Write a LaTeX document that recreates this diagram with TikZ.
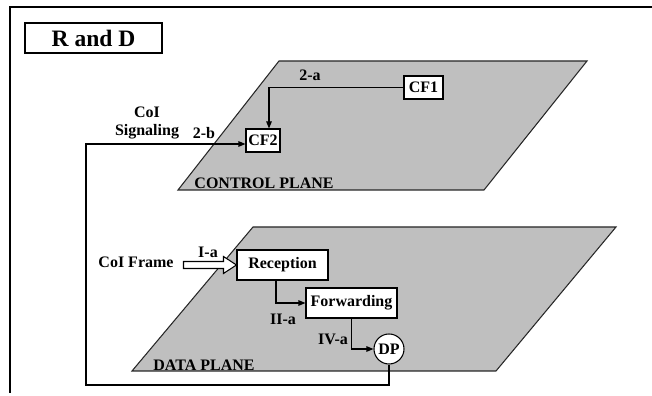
\documentclass[tikz,border=0pt]{standalone}
\usepackage{fontspec}
\setmainfont{Liberation Serif}
\usetikzlibrary{arrows.meta}

\begin{document}
\begin{tikzpicture}[>={Triangle[length=1.4mm,width=1.1mm]},font=\fontsize{9.1}{10.5}\selectfont\bfseries,line width=0.6pt,
  plane/.style={fill=black!25,draw=black!85},
  box/.style={draw,fill=white,inner sep=0pt,minimum height=0.46cm},
  unit/.style={box,minimum width=1.82cm,minimum height=0.6cm}]
\useasboundingbox (0,0) rectangle (13.04,7.92);
\draw (0.2,0.06) -- (0.2,7.78) -- (13.04,7.78);
\node[box,minimum width=2.74cm,minimum height=0.6cm,font=\fontsize{13.4}{15}\selectfont\bfseries] (title) at (1.87,7.16) {R and D};
% planes
\draw[plane] (3.56,4.12) -- (5.58,6.70) -- (11.74,6.70) -- (9.68,4.12) -- cycle;
\draw[plane] (2.64,0.50) -- (5.06,3.38) -- (12.32,3.38) -- (9.92,0.50) -- cycle;
\node (cplane) at (5.28,4.26) {CONTROL PLANE};
\node (dplane) at (4.08,0.62) {DATA PLANE};
% control functions
\node[box,minimum width=0.78cm] (cf1) at (8.47,6.17) {CF1};
\node[box,minimum width=0.68cm] (cf2) at (5.26,5.11) {CF2};
\draw[->] (cf1.west) -| ([xshift=1.2mm]cf2.north);
\node (la) at (6.2,6.42) {2-a};
% data path
\node[unit] (reception) at (5.65,2.62) {Reception};
\node[unit] (forwarding) at (7.03,1.86) {Forwarding};
\node[draw,fill=white,circle,inner sep=0pt,minimum size=0.6cm] (dp) at (7.78,0.94) {DP};
\draw[fill=white] (reception.west) -- ++(-0.26,0.17) -- ++(0,-0.1) -- ++(-0.8,0) -- ++(0,-0.14) -- ++(0.8,0) -- ++(0,-0.1) -- cycle;
\node (frame) at (2.72,2.68) {CoI Frame};
\node (ia) at (4.16,2.88) {I-a};
\draw[->] ([xshift=-1.3mm]reception.south) |- (forwarding.west);
\node (iia) at (5.66,1.54) {II-a};
\draw[->] (forwarding.south) |- (dp.west);
\node (iva) at (6.66,1.14) {IV-a};
% signaling back to control plane
\coordinate (sigbot) at (1.72,0.22);
\draw[->] (dp.south) |- (sigbot) |- ([yshift=-0.7mm]cf2.west);
\node[align=center] (sig) at (2.94,5.46) {CoI\\Signaling};
\node (lb) at (4.08,5.26) {2-b};
\end{tikzpicture}
\end{document}
